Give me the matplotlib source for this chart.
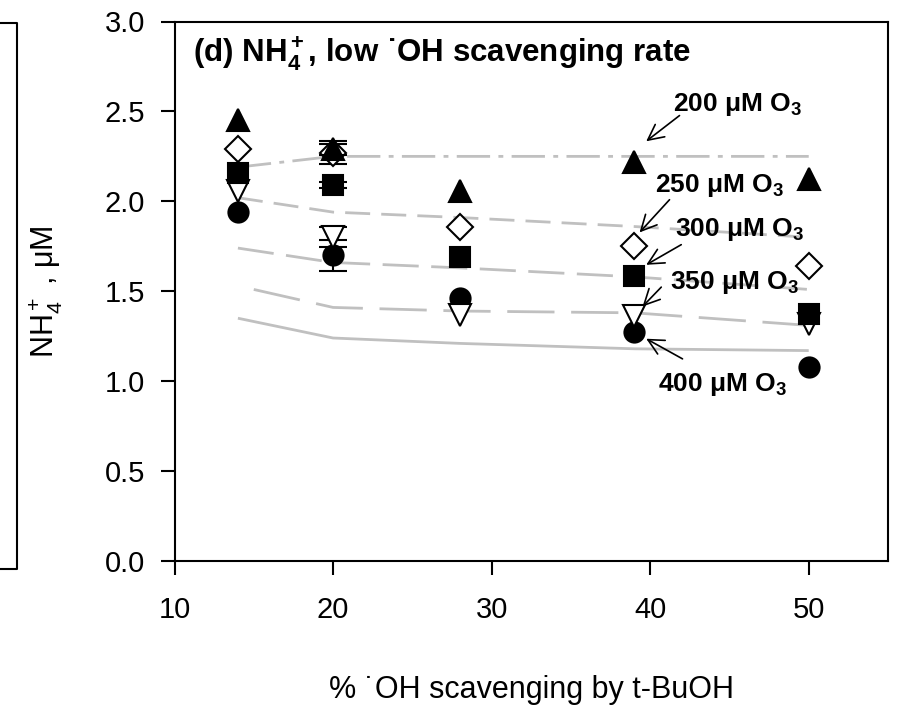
import matplotlib
matplotlib.use("Agg")
import matplotlib.pyplot as plt
from matplotlib.lines import Line2D

plt.rcParams['font.family'] = ['Liberation Sans', 'DejaVu Sans']
plt.rcParams['mathtext.fontset'] = 'custom'
plt.rcParams['mathtext.rm'] = 'Liberation Sans'
plt.rcParams['mathtext.it'] = 'Liberation Sans:italic'
plt.rcParams['mathtext.bf'] = 'Liberation Sans:bold'
plt.rcParams['mathtext.default'] = 'regular'
plt.rcParams['lines.scale_dashes'] = False

# ---------------- data ----------------
x_pts = [14, 20, 28, 39, 50]

o3_200 = [2.45, 2.29, 2.06, 2.22, 2.125]   # filled up-triangle
o3_250 = [2.29, 2.27, 1.86, 1.75, 1.64]    # open diamond
o3_300 = [2.16, 2.09, 1.69, 1.585, 1.375]  # filled square
o3_350 = [2.06, 1.80, 1.37, 1.36, 1.32]    # open down-triangle
o3_400 = [1.94, 1.70, 1.46, 1.275, 1.08]   # filled circle

err_200 = [0.0, 0.03, 0.0, 0.0, 0.0]
err_250 = [0.0, 0.065, 0.0, 0.0, 0.0]
err_300 = [0.0, 0.015, 0.0, 0.0, 0.0]
err_350 = [0.0, 0.055, 0.0, 0.0, 0.0]
err_400 = [0.0, 0.085, 0.0, 0.0, 0.0]

# model curves
model_x = [14, 20, 28, 39, 50]
model_200 = [2.19, 2.25, 2.25, 2.25, 2.25]
model_250 = [2.02, 1.94, 1.91, 1.86, 1.80]
model_300 = [1.74, 1.66, 1.63, 1.58, 1.51]
model_350_x = [15, 20, 28, 39, 50]
model_350 = [1.51, 1.41, 1.39, 1.38, 1.31]
model_400 = [1.35, 1.24, 1.21, 1.18, 1.17]

x_ticks = [10, 20, 30, 40, 50]
y_ticks = [0.0, 0.5, 1.0, 1.5, 2.0, 2.5, 3.0]
y_ticklabels = ['0.0', '0.5', '1.0', '1.5', '2.0', '2.5', '3.0']

# ---------------- figure ----------------
W, H = 902, 706
fig = plt.figure(figsize=(W / 100, H / 100), dpi=100)
ax = fig.add_axes([174.5 / W, 1 - 561 / H, (888 - 174.5) / W, (561 - 21.5) / H])

gray = '#c0c0c0'
lw_model = 2.0
l200, = ax.plot(model_x, model_200, color=gray, lw=lw_model)
l200.set_dashes([24, 6, 3.5, 6])
l250, = ax.plot(model_x, model_250, color=gray, lw=lw_model)
l250.set_dashes([18, 8])
l300, = ax.plot(model_x, model_300, color=gray, lw=lw_model)
l300.set_dashes([26, 9])
l350, = ax.plot(model_350_x, model_350, color=gray, lw=lw_model)
l350.set_dashes([34, 12])
ax.plot(model_x, model_400, color=gray, lw=lw_model, solid_capstyle='butt')

def series(y, err, marker, ms, face, z):
    yerr = [e if e > 0 else float('nan') for e in err]
    ax.errorbar(x_pts, y, yerr=yerr, fmt='none', ecolor='black', elinewidth=1.5,
                capsize=10, capthick=1.5, zorder=z)
    ax.plot(x_pts, y, linestyle='none', marker=marker, ms=ms, mfc=face,
            mec='black', mew=1.5, zorder=z + 0.5)

series(o3_400, err_400, 'o', 14.5, 'black', 3)
series(o3_350, err_350, 'v', 15.5, 'white', 4)
series(o3_300, err_300, 's', 14, 'black', 5)
series(o3_250, err_250, 'D', 13, 'white', 6)
series(o3_200, err_200, '^', 15.5, 'black', 7)

ax.set_xlim(10, 55)
ax.set_ylim(0, 3.0)
ax.set_xticks(x_ticks)
ax.set_yticks(y_ticks)
ax.set_yticklabels(y_ticklabels)
for s in ax.spines.values():
    s.set_linewidth(1.5)
ax.tick_params(direction='out', length=10, width=1.5, labelsize=21)
ax.tick_params(axis='x', pad=15)
ax.tick_params(axis='y', pad=11)

ax.set_xlabel('% ˙OH scavenging by t-BuOH', fontsize=22)
ax.xaxis.label.set_va('center')
ax.xaxis.set_label_coords(0.5, (561 - 690) / 539.5)
ax.set_ylabel(r'NH$_4^+$ , μM', fontsize=22)
ax.yaxis.label.set_va('center')
ax.yaxis.set_label_coords((45 - 174.5) / 713.5, 0.5)

ax.text((193 - 174.5) / 713.5, (561 - 62) / 539.5,
        r'(d) $\mathbf{NH_4^+}$, low ˙OH scavenging rate',
        transform=ax.transAxes, fontsize=22.5, fontweight='bold',
        ha='left', va='baseline')

# annotations: (text pos, arrow tail, arrow tip)
ann = [
    ('200', (41.41, 2.505), (41.85, 2.477), (39.75, 2.334)),
    ('250', (40.28, 2.054), (41.22, 2.009), (39.33, 1.827)),
    ('300', (41.54, 1.809), (41.96, 1.759), (39.75, 1.647)),
    ('350', (41.22, 1.514), (40.70, 1.523), (39.52, 1.415)),
    ('400', (40.47, 0.946), (42.04, 1.124), (39.75, 1.236)),
]
for lab, tpos, tail, tip in ann:
    ax.text(tpos[0], tpos[1], lab + r' μM $\mathbf{O_3}$', fontsize=19,
            fontweight='bold', ha='left', va='baseline', zorder=10)
    ax.annotate('', xy=tip, xytext=tail,
                arrowprops=dict(arrowstyle='->', lw=1.2, color='black',
                                mutation_scale=28, shrinkA=0, shrinkB=0),
                zorder=10)

# fragment of neighbouring panel frame
fx = [0, 17 / W, 17 / W, 0]
fy = [1 - 23 / H, 1 - 23 / H, 1 - 569 / H, 1 - 569 / H]
fig.add_artist(Line2D(fx, fy, transform=fig.transFigure, color='black', lw=1.5))

fig.savefig('out.png', dpi=100)
